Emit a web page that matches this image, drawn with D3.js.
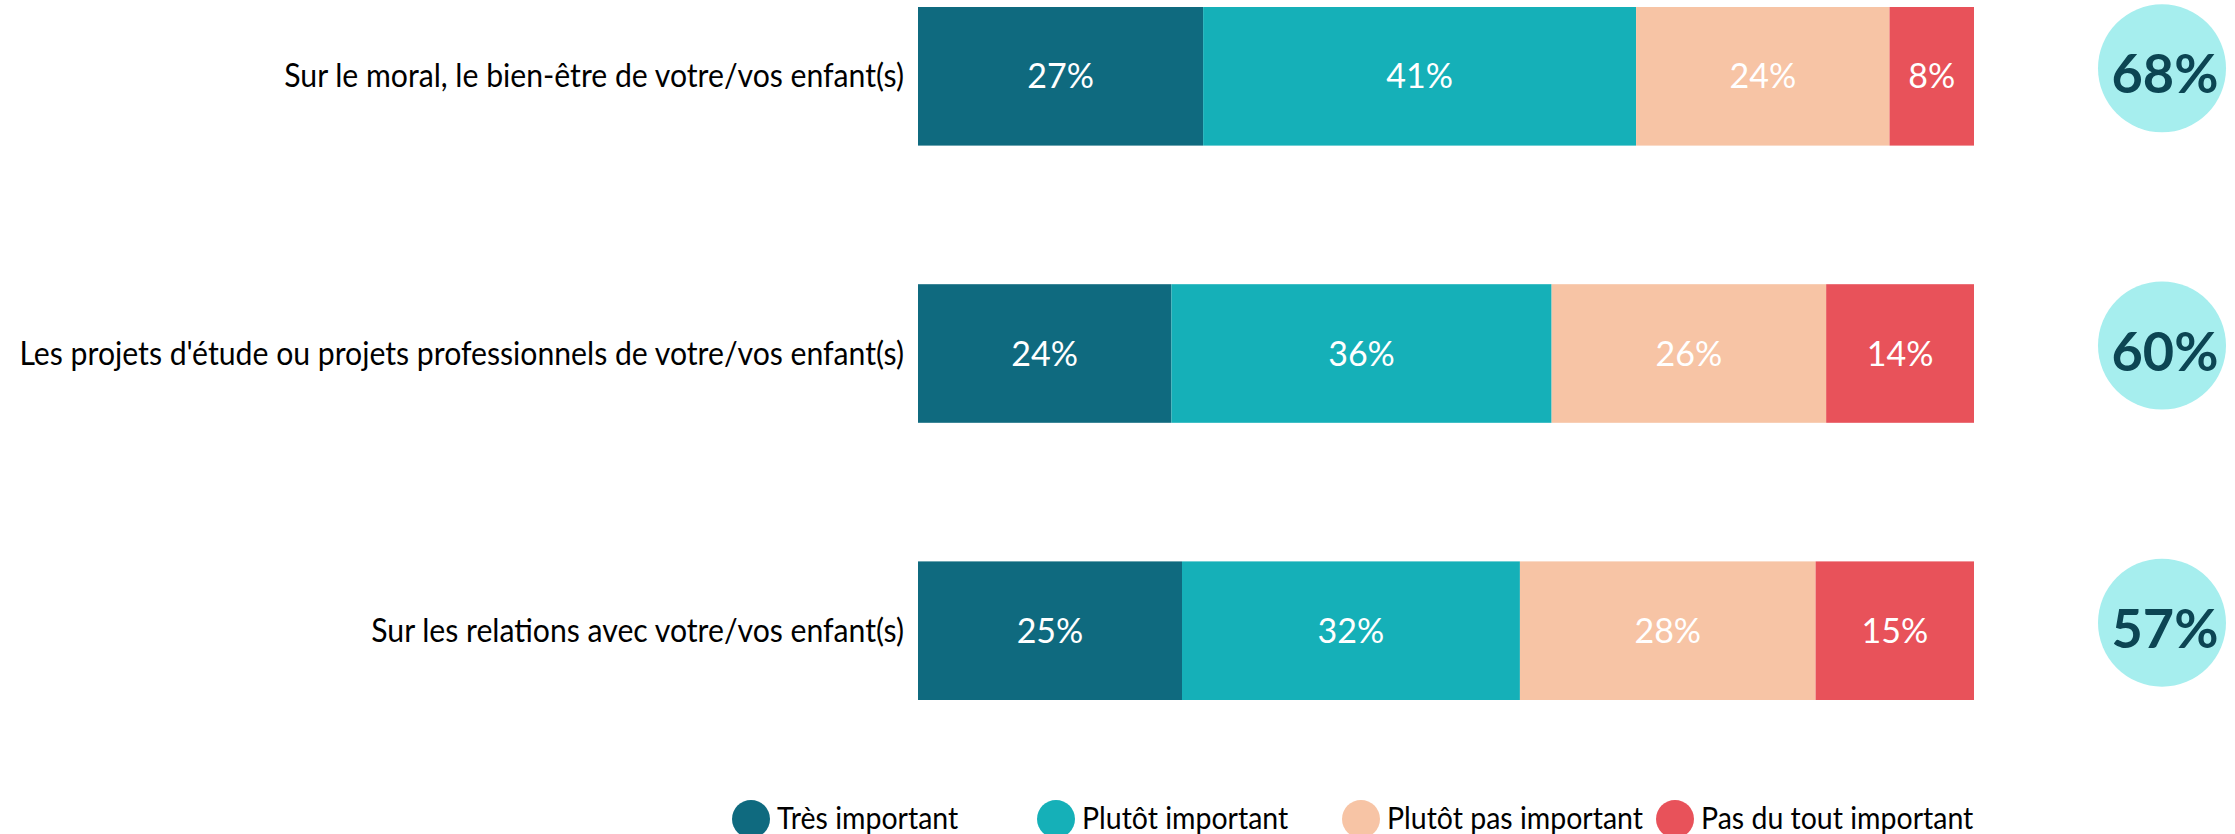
<!DOCTYPE html>
<html>
<head>
<meta charset="utf-8">
<script src="https://cdn.jsdelivr.net/npm/d3@7"></script>
<style>
  body { margin: 0; background: #fff; }
  svg { display: block; font-family: Lato, "Open Sans", sans-serif; }
</style>
</head>
<body>
<svg id="chart" width="2235" height="834"></svg>
<script>
const categories = [
  "Sur le moral, le bien-être de votre/vos enfant(s)",
  "Les projets d'étude ou projets professionnels de votre/vos enfant(s)",
  "Sur les relations avec votre/vos enfant(s)"
];
const seriesNames = ["Très important", "Plutôt important", "Plutôt pas important", "Pas du tout important"];
const tresImportant = [27, 24, 25];
const plutotImportant = [41, 36, 32];
const plutotPas = [24, 26, 28];
const pasDuTout = [8, 14, 15];
const totalImportant = [68, 60, 57];

const colors = ["#0f6a7f", "#15b0b8", "#f7c4a5", "#e8525a"];

const width = 2235;
const height = 834;
const margin = { left: 918, right: 261, top: 7 };

const svg = d3.select("#chart");

const rows = categories.map((c, i) => ({
  cat: c,
  [seriesNames[0]]: tresImportant[i],
  [seriesNames[1]]: plutotImportant[i],
  [seriesNames[2]]: plutotPas[i],
  [seriesNames[3]]: pasDuTout[i],
  total: totalImportant[i]
}));

const stacked = d3.stack().keys(seriesNames)(rows);

const x = d3.scaleLinear().domain([0, 100]).range([margin.left, width - margin.right]);
const y = d3.scaleBand().domain(categories).range([margin.top, 700]).paddingInner(0.5).paddingOuter(0);

const color = d3.scaleOrdinal().domain(seriesNames).range(colors);

// bars
const layer = svg.append("g")
  .selectAll("g")
  .data(stacked)
  .join("g")
  .attr("fill", (d) => color(d.key));

layer.selectAll("rect")
  .data((d) => d)
  .join("rect")
  .attr("x", (d) => x(d[0]))
  .attr("y", (d) => y(d.data.cat))
  .attr("width", (d) => x(d[1]) - x(d[0]))
  .attr("height", y.bandwidth());

layer.selectAll("text")
  .data((d) => d)
  .join("text")
  .attr("x", (d) => (x(d[0]) + x(d[1])) / 2)
  .attr("y", (d) => y(d.data.cat) + y.bandwidth() / 2 + 12)
  .attr("text-anchor", "middle")
  .attr("fill", "#fff")
  .attr("font-size", 34)
  .text((d) => (d[1] - d[0]) + "%");

// category labels (narrowed a bit, the original font is condensed)
svg.append("g")
  .selectAll("text")
  .data(categories)
  .join("text")
  .attr("transform", (d) => `translate(904, ${y(d) + y.bandwidth() / 2 + 11}) scale(0.915, 1)`)
  .attr("text-anchor", "end")
  .attr("fill", "#000")
  .attr("font-size", 33)
  .text((d) => d);

// total bubbles
const bubble = svg.append("g")
  .selectAll("g")
  .data(rows)
  .join("g")
  .attr("transform", (d) => `translate(2162, ${y(d.cat) + y.bandwidth() / 2 - 8})`);

bubble.append("circle")
  .attr("r", 64)
  .attr("fill", "#a6eeee");

bubble.append("text")
  .attr("x", 3)
  .attr("y", 25)
  .attr("text-anchor", "middle")
  .attr("fill", "#0c4553")
  .attr("font-size", 54)
  .attr("font-weight", "bold")
  .text((d) => d.total + "%");

// legend
const legendX = [751, 1056, 1361, 1675];
const legend = svg.append("g")
  .selectAll("g")
  .data(seriesNames)
  .join("g")
  .attr("transform", (d, i) => `translate(${legendX[i]}, 819)`);

legend.append("circle")
  .attr("r", 19)
  .attr("fill", (d) => color(d));

legend.append("text")
  .attr("transform", "translate(26, 10) scale(0.95, 1)")
  .attr("fill", "#000")
  .attr("font-size", 30)
  .text((d) => d);
</script>
</body>
</html>
